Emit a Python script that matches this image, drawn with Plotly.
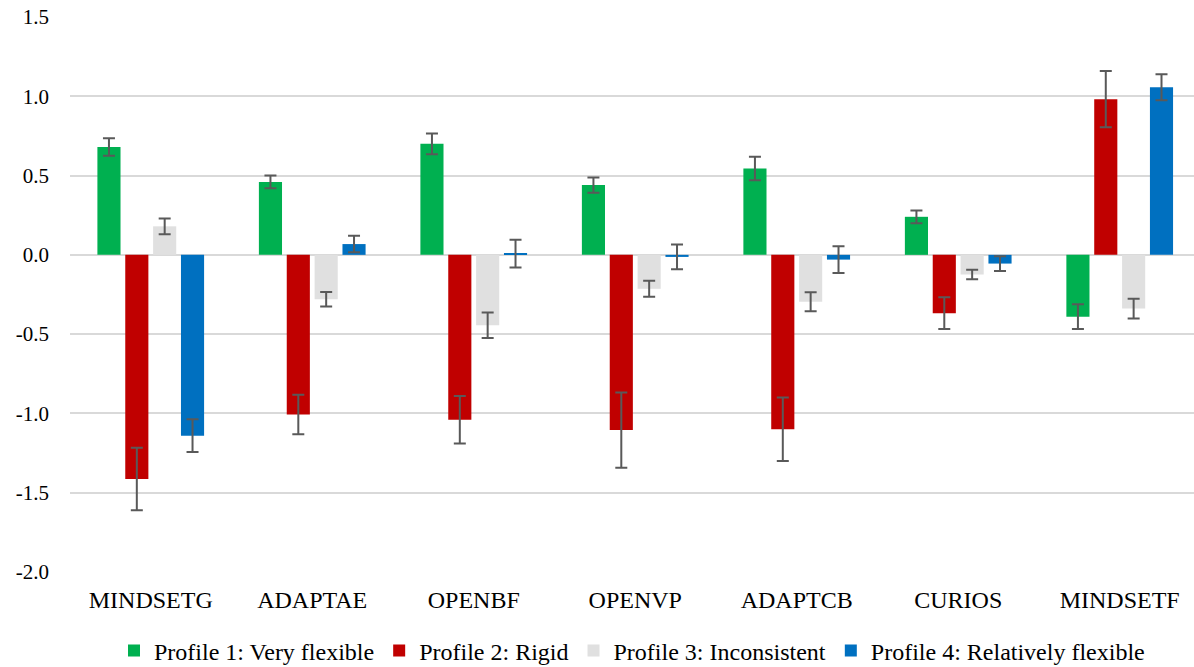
import plotly.graph_objects as go

categories = ["MINDSETG", "ADAPTAE", "OPENBF", "OPENVP", "ADAPTCB", "CURIOS", "MINDSETF"]
series_names = ["Profile 1: Very flexible", "Profile 2: Rigid", "Profile 3: Inconsistent", "Profile 4: Relatively flexible"]

p1_values = [0.68, 0.46, 0.70, 0.44, 0.545, 0.24, -0.39]
p1_errors = [0.055, 0.04, 0.065, 0.048, 0.074, 0.04, 0.078]
p2_values = [-1.414, -1.007, -1.04, -1.105, -1.10, -0.368, 0.982]
p2_errors = [0.197, 0.125, 0.15, 0.237, 0.20, 0.10, 0.178]
p3_values = [0.18, -0.28, -0.444, -0.214, -0.296, -0.124, -0.339]
p3_errors = [0.05, 0.046, 0.08, 0.05, 0.06, 0.03, 0.062]
p4_values = [-1.14, 0.068, 0.008, -0.013, -0.03, -0.055, 1.057]
p4_errors = [0.104, 0.052, 0.088, 0.078, 0.084, 0.047, 0.082]

y_ticks = [-2.0, -1.5, -1.0, -0.5, 0.0, 0.5, 1.0, 1.5]
y_tick_text = ["-2.0", "-1.5", "-1.0", "-0.5", "0.0", "0.5", "1.0", "1.5"]

colors = ["#00B050", "#C00000", "#E0E0E0", "#0070C0"]
values = [p1_values, p2_values, p3_values, p4_values]
errors = [p1_errors, p2_errors, p3_errors, p4_errors]

font_family = "Liberation Serif"

fig = go.Figure()
for name, vals, errs, col in zip(series_names, values, errors, colors):
    fig.add_trace(go.Bar(
        x=categories, y=vals, name=name,
        marker=dict(color=col, line=dict(width=0)),
        error_y=dict(type="data", array=errs, visible=True,
                     color="#595959", thickness=2, width=6),
    ))

fig.update_layout(
    width=1194, height=667,
    margin=dict(l=70, r=0, t=17, b=95, autoexpand=False),
    paper_bgcolor="white", plot_bgcolor="white",
    barmode="group", bargap=0.31, bargroupgap=0.17,
    font=dict(family=font_family, size=24, color="black"),
    legend=dict(orientation="h", x=0.5, xanchor="center", y=-0.142, yanchor="middle",
                font=dict(family=font_family, size=24, color="black"),
                itemwidth=30, tracegroupgap=0),
    xaxis=dict(range=[-0.5, 6.46], showgrid=False, showline=False, ticks="",
               tickfont=dict(family=font_family, size=24, color="black"),
               ticklabelstandoff=11),
    yaxis=dict(range=[-2.0, 1.5], tickvals=y_ticks, ticktext=y_tick_text,
               showgrid=True, gridcolor="#D9D9D9", gridwidth=2,
               zeroline=True, zerolinecolor="#D9D9D9", zerolinewidth=2,
               showline=False, ticks="",
               tickfont=dict(family=font_family, size=21, color="black"),
               ticklabelstandoff=20),
)

fig.write_html("out.html", post_script="document.body.style.margin='0';document.body.style.padding='0';",
               config={"displayModeBar": False})
